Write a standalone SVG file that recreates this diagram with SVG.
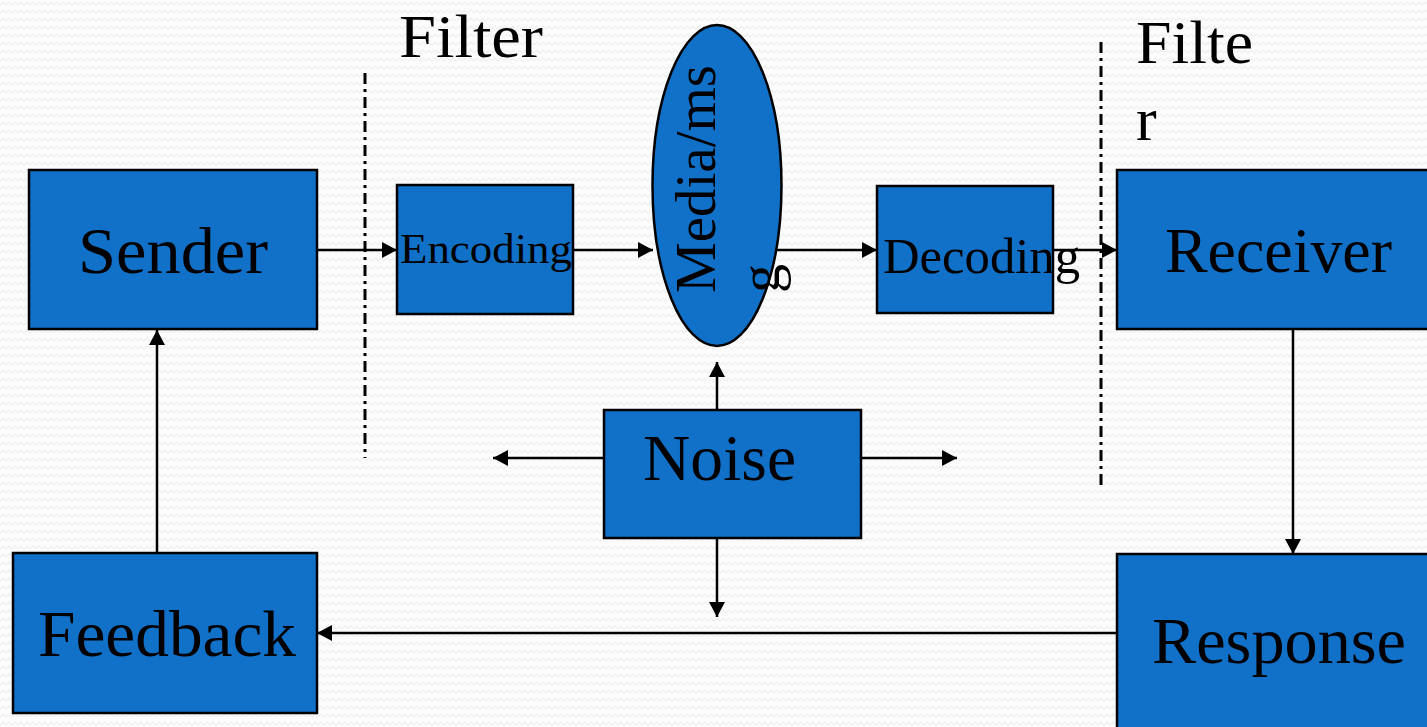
<svg xmlns="http://www.w3.org/2000/svg" width="1427" height="727" viewBox="0 0 1427 727">
<style>
.box{fill:#1170C7;stroke:#000;stroke-width:2.5}
.lbl{font-family:"Liberation Serif","Times New Roman",serif;fill:#000}
.conn{stroke:#000;stroke-width:2.5;fill:none}
.dd{stroke:#000;stroke-width:3;fill:none;stroke-dasharray:11 5 3 5}
</style>
<defs>
<pattern id="bg" width="12" height="8" patternUnits="userSpaceOnUse">
<rect width="12" height="8" fill="#fcfcfc"/>
<path d="M0,5 L3,2 L6,5 L9,2 L12,5" stroke="#efefef" stroke-width="1.2" fill="none"/>
</pattern>
<marker id="ah" markerUnits="userSpaceOnUse" markerWidth="16" markerHeight="16" refX="15" refY="8" orient="auto">
<path d="M0,0 L15,8 L0,16 z" fill="#000"/>
</marker>
</defs>
<rect width="1427" height="727" fill="url(#bg)"/>

<g id="filters">
<line class="dd" x1="365" y1="73" x2="365" y2="458"/>
<line class="dd" x1="1101" y1="42" x2="1101" y2="490"/>
<text class="lbl" x="399" y="57" font-size="62" textLength="144" lengthAdjust="spacingAndGlyphs">Filter</text>
<text class="lbl" x="1136" y="63" font-size="62" textLength="117" lengthAdjust="spacingAndGlyphs">Filte</text>
<text class="lbl" x="1136" y="140" font-size="62">r</text>
</g>

<g id="connectors">
<line class="conn" x1="317" y1="250" x2="397" y2="250" marker-end="url(#ah)"/>
<line class="conn" x1="573" y1="250" x2="653" y2="250" marker-end="url(#ah)"/>
<line class="conn" x1="765" y1="250" x2="877" y2="250" marker-end="url(#ah)"/>
<line class="conn" x1="1053" y1="250" x2="1117" y2="250" marker-end="url(#ah)"/>
<line class="conn" x1="1293" y1="330" x2="1293" y2="554" marker-end="url(#ah)"/>
<line class="conn" x1="1117" y1="633" x2="317" y2="633" marker-end="url(#ah)"/>
<line class="conn" x1="157" y1="553" x2="157" y2="330" marker-end="url(#ah)"/>
<line class="conn" x1="717" y1="410" x2="717" y2="362" marker-end="url(#ah)"/>
<line class="conn" x1="604" y1="458" x2="493" y2="458" marker-end="url(#ah)"/>
<line class="conn" x1="861" y1="458" x2="957" y2="458" marker-end="url(#ah)"/>
<line class="conn" x1="717" y1="538" x2="717" y2="617" marker-end="url(#ah)"/>
</g>

<g id="sender">
<rect class="box" x="29" y="170" width="288" height="159"/>
<text class="lbl" x="78" y="273" font-size="66" textLength="190" lengthAdjust="spacingAndGlyphs">Sender</text>
</g>
<g id="encoding">
<rect class="box" x="397" y="185" width="176" height="129"/>
<text class="lbl" x="400" y="263" font-size="43" textLength="172" lengthAdjust="spacingAndGlyphs">Encoding</text>
</g>
<g id="media">
<ellipse class="box" cx="717" cy="185.5" rx="64.5" ry="160.5"/>
<g transform="translate(715,293) rotate(-90)">
<text class="lbl" x="0" y="0" font-size="58" textLength="228" lengthAdjust="spacingAndGlyphs">Media/ms</text>
<text class="lbl" x="0" y="64" font-size="58">g</text>
</g>
</g>
<g id="decoding">
<rect class="box" x="877" y="186" width="176" height="127"/>
<text class="lbl" x="883" y="273" font-size="50" textLength="197" lengthAdjust="spacingAndGlyphs">Decoding</text>
</g>
<g id="receiver">
<rect class="box" x="1117" y="170" width="320" height="159"/>
<text class="lbl" x="1165" y="272" font-size="64" textLength="227" lengthAdjust="spacingAndGlyphs">Receiver</text>
</g>
<g id="noise">
<rect class="box" x="604" y="410" width="257" height="128"/>
<text class="lbl" x="643" y="480" font-size="65" textLength="153" lengthAdjust="spacingAndGlyphs">Noise</text>
</g>
<g id="response">
<rect class="box" x="1117" y="554" width="320" height="190"/>
<text class="lbl" x="1152" y="663" font-size="66" textLength="254" lengthAdjust="spacingAndGlyphs">Response</text>
</g>
<g id="feedback">
<rect class="box" x="13" y="553" width="304" height="160"/>
<text class="lbl" x="38" y="656" font-size="65" textLength="258" lengthAdjust="spacingAndGlyphs">Feedback</text>
</g>
</svg>
